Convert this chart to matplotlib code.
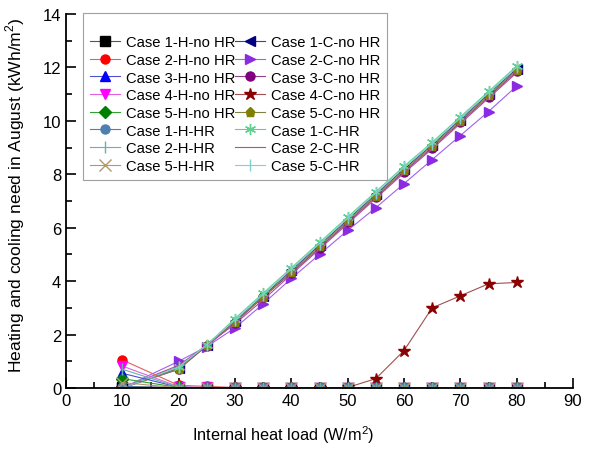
import numpy as np
import matplotlib
matplotlib.use("Agg")
import matplotlib.pyplot as plt
from matplotlib.ticker import MultipleLocator

plt.rcParams['font.family'] = ['Liberation Sans', 'DejaVu Sans']
plt.rcParams['mathtext.fontset'] = 'custom'
plt.rcParams['mathtext.rm'] = 'Liberation Sans'

# internal heat load (W/m2)
load = [10, 20, 25, 30, 35, 40, 45, 50, 55, 60, 65, 70, 75, 80]

# heating need (kWh/m2)
h1_noHR = [0.05, 0.02, 0.01, 0, 0, 0, 0, 0, 0, 0, 0, 0, 0, 0]
h2_noHR = [1.05, 0.10, 0.06, 0.02, 0, 0, 0, 0, 0, 0, 0, 0, 0, 0]
h3_noHR = [0.55, 0.03, 0.01, 0, 0, 0, 0, 0, 0, 0, 0, 0, 0, 0]
h4_noHR = [0.82, 0.05, 0.02, 0, 0, 0, 0, 0, 0, 0, 0, 0, 0, 0]
h5_noHR = [0.35, 0.02, 0.01, 0, 0, 0, 0, 0, 0, 0, 0, 0, 0, 0]
h1_HR = [0.05, 0.01, 0.01, 0.01, 0.01, 0.01, 0.01, 0.01, 0.01, 0.01, 0.01, 0.01, 0.01, 0.01]
h2_HR = [0.70, 0.03, 0.01, 0, 0, 0, 0, 0, 0, 0, 0, 0, 0, 0]
h5_HR = [0.20, 0.01, 0, 0, 0, 0, 0, 0, 0, 0, 0, 0, 0, 0]

# cooling need (kWh/m2)
c1_noHR = [0, 0.75, 1.60, 2.50, 3.45, 4.40, 5.35, 6.30, 7.25, 8.20, 9.10, 10.05, 11.00, 11.95]
c2_noHR = [0, 1.00, 1.55, 2.25, 3.15, 4.10, 5.00, 5.90, 6.75, 7.65, 8.55, 9.45, 10.35, 11.30]
c3_noHR = [0, 0.70, 1.58, 2.45, 3.40, 4.30, 5.25, 6.20, 7.15, 8.10, 9.00, 9.95, 10.90, 11.85]
c4_noHR = [0, 0, 0, 0, 0, 0, 0, 0.02, 0.35, 1.40, 3.00, 3.45, 3.90, 3.95]
c5_noHR = [0, 0.72, 1.60, 2.48, 3.42, 4.35, 5.30, 6.25, 7.20, 8.15, 9.05, 10.00, 10.95, 11.90]
c1_HR = [0, 0.80, 1.62, 2.60, 3.55, 4.50, 5.45, 6.40, 7.35, 8.30, 9.20, 10.15, 11.10, 12.05]
c2_HR = [0, 0.85, 1.60, 2.40, 3.30, 4.25, 5.20, 6.15, 7.10, 8.05, 8.95, 9.90, 10.85, 11.80]
c5_HR = [0, 0.78, 1.62, 2.55, 3.50, 4.45, 5.40, 6.35, 7.30, 8.25, 9.15, 10.10, 11.05, 12.00]

heating = [
    ("Case 1-H-no HR", h1_noHR, 's', 'black', '#555555'),
    ("Case 2-H-no HR", h2_noHR, 'o', 'red', '#e06060'),
    ("Case 3-H-no HR", h3_noHR, '^', 'blue', '#5050d0'),
    ("Case 4-H-no HR", h4_noHR, 'v', 'magenta', '#e060e0'),
    ("Case 5-H-no HR", h5_noHR, 'D', 'green', '#30a030'),
    ("Case 1-H-HR", h1_HR, 'o', '#4f7fb0', '#4f7fb0'),
    ("Case 2-H-HR", h2_HR, '|', '#6ab0b0', '#6ab0b0'),
    ("Case 5-H-HR", h5_HR, 'x', '#b09870', '#b09870'),
]
cooling = [
    ("Case 1-C-no HR", c1_noHR, '<', 'navy', '#404090'),
    ("Case 2-C-no HR", c2_noHR, '>', '#8a2be2', '#a060f0'),
    ("Case 3-C-no HR", c3_noHR, 'o', 'purple', '#904090'),
    ("Case 4-C-no HR", c4_noHR, '*', '#8b0000', '#a05050'),
    ("Case 5-C-no HR", c5_noHR, 'p', '#808000', '#808040'),
    ("Case 1-C-HR", c1_HR, (6, 2, 0), '#60d090', '#60d090'),
    ("Case 2-C-HR", c2_HR, 'None', '#b05090', '#b05090'),
    ("Case 5-C-HR", c5_HR, '|', '#80d0d0', '#80d0d0'),
]

fig = plt.figure(figsize=(5.93, 4.52), dpi=100)
ax = fig.add_axes([66/593, 1-389/452, 507/593, 374/452])

handles = {}
# cooling drawn first so the heating markers sit on top at zero
for name, vals, mk, mcol, lcol in cooling + heating:
    ms = 6.5
    if mk == '*':
        ms = 9
    if mk in ('|', 'x') or isinstance(mk, tuple):
        ms = 8
    line, = ax.plot(load, vals, color=lcol, lw=0.8, marker=mk, markersize=ms,
                    markerfacecolor=mcol, markeredgecolor=mcol,
                    markeredgewidth=1.0, label=name)
    handles[name] = line

order = [s[0] for s in heating] + [s[0] for s in cooling]

ax.set_xlim(0, 90)
ax.set_ylim(0, 14)
ax.xaxis.set_major_locator(MultipleLocator(10))
ax.xaxis.set_minor_locator(MultipleLocator(5))
ax.yaxis.set_major_locator(MultipleLocator(2))
ax.yaxis.set_minor_locator(MultipleLocator(1))
ax.tick_params(which='both', direction='in', labelsize=12, width=1.2)
ax.tick_params(which='major', length=7)
ax.tick_params(which='minor', length=4)
ax.spines['top'].set_visible(False)
ax.spines['right'].set_visible(False)
ax.spines['left'].set_linewidth(1.3)
ax.spines['bottom'].set_linewidth(1.3)

ax.set_xlabel("Internal heat load (W/m$^2$)", fontsize=11.7)
ax.xaxis.set_label_coords(0.428, -0.094)
ax.set_ylabel("Heating and cooling need in August (kWh/m$^2$)", fontsize=12.6)
ax.yaxis.set_label_coords(-0.077, 0.519)

leg = ax.legend([handles[n] for n in order], order, ncol=2, loc='upper left',
                bbox_to_anchor=(83/593, 1-14/452), bbox_transform=fig.transFigure,
                fontsize=10.6, frameon=True, fancybox=False, edgecolor='#888888',
                handlelength=2.0, handletextpad=0.4, columnspacing=0.0,
                labelspacing=0.25, borderpad=0.5, borderaxespad=0,
                title=' ', title_fontsize=9)
leg.get_frame().set_linewidth(0.8)
leg._legend_box.sep = 2

fig.savefig("out.png", dpi=100)
